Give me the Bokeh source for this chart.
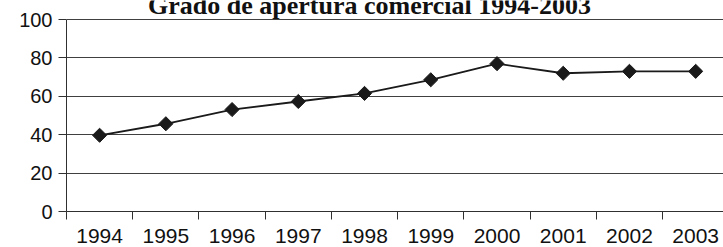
import math
from bokeh.plotting import figure
from bokeh.models import Range1d, FixedTicker, Label, ColumnDataSource
from bokeh.embed import file_html
from bokeh.resources import INLINE

years = [1994, 1995, 1996, 1997, 1998, 1999, 2000, 2001, 2002, 2003]
apertura = [39.7, 45.7, 53.1, 57.3, 61.5, 68.6, 77.0, 72.0, 73.0, 73.0]
y_ticks = [0, 20, 40, 60, 80, 100]
title_text = "Grado de apertura comercial 1994-2003"

W, H = 723, 247
# frame spans the full top of the canvas; 0..100 occupies 192 px, headroom above for the title
p = figure(width=W, height=H, output_backend="svg", toolbar_location=None,
           x_range=Range1d(years[0] - 0.5, years[-1] + 0.42),
           y_range=Range1d(0, 100 * 211 / 192),
           min_border_left=66, min_border_right=0, min_border_top=0, min_border_bottom=36)
p.outline_line_color = None
p.background_fill_color = "white"
p.border_fill_color = "white"

src = ColumnDataSource(dict(x=years, y=apertura))
p.line("x", "y", source=src, line_color="#1a1a1a", line_width=1.8)
p.scatter("x", "y", source=src, marker="square", angle=math.pi / 4, size=10,
          fill_color="#1a1a1a", line_color="#1a1a1a")

# x axis
p.xaxis.ticker = FixedTicker(ticks=years, minor_ticks=[y - 0.5 for y in years] + [years[-1] + 0.5])
p.xaxis.major_tick_out = 0
p.xaxis.major_tick_in = 0
p.xaxis.minor_tick_out = 8
p.xaxis.minor_tick_in = 0
p.xaxis.minor_tick_line_color = "#303030"
p.xaxis.axis_line_color = "#303030"
p.xaxis.major_label_text_font = "Liberation Sans"
p.xaxis.major_label_text_font_size = "21px"
p.xaxis.major_label_text_color = "#111111"
p.xaxis.major_label_standoff = 9
p.xgrid.grid_line_color = None

# y axis
p.yaxis.ticker = FixedTicker(ticks=y_ticks)
p.yaxis.bounds = (0, 100)
p.yaxis.minor_tick_line_color = None
p.yaxis.major_tick_out = 8
p.yaxis.major_tick_in = 0
p.yaxis.major_tick_line_color = "#303030"
p.yaxis.axis_line_color = "#303030"
p.yaxis.major_label_text_font = "Liberation Sans"
p.yaxis.major_label_text_font_size = "20px"
p.yaxis.major_label_text_color = "#111111"
p.yaxis.major_label_standoff = 6
p.ygrid.grid_line_color = "#404040"
p.ygrid.grid_line_width = 1

title = Label(x=303, y=206, x_units="screen", y_units="screen", text=title_text,
              text_font="Liberation Serif", text_font_style="bold",
              text_font_size="26px", text_align="center", text_baseline="alphabetic",
              text_color="#111111")
p.add_layout(title)

open("out.html", "w").write(file_html(p, INLINE))
